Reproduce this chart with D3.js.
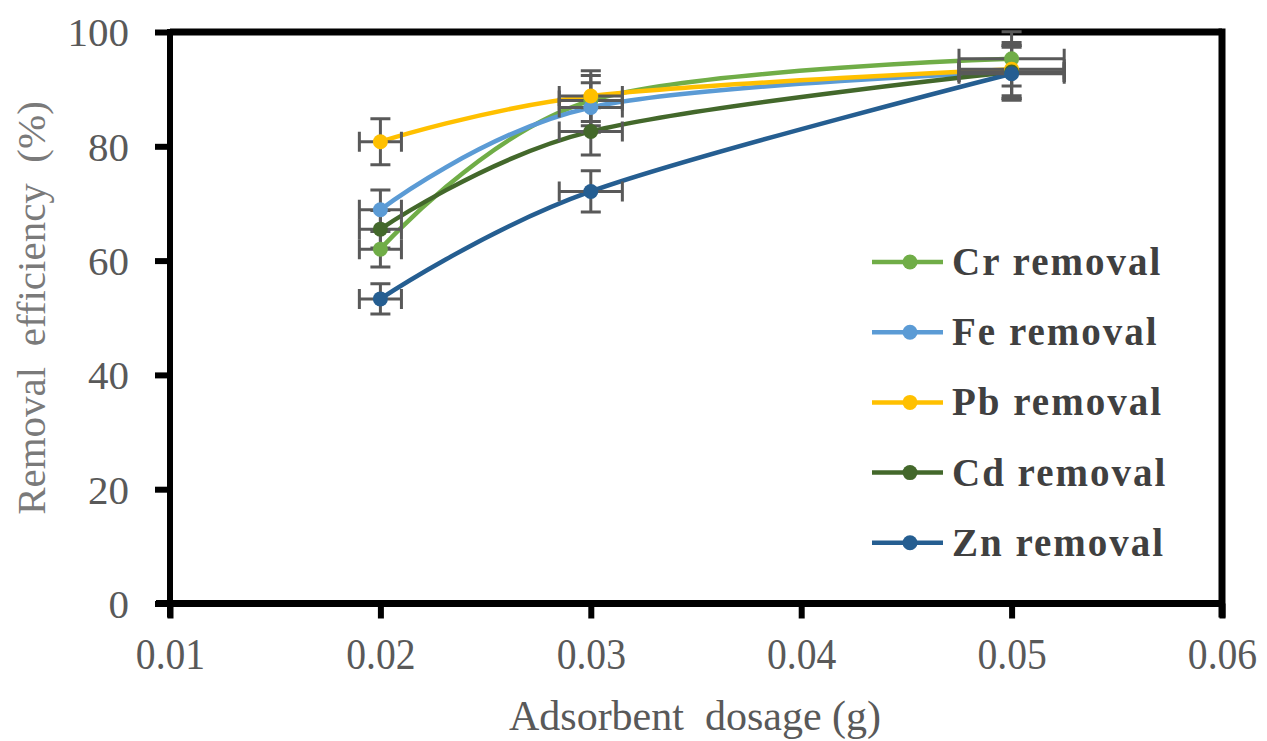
<!DOCTYPE html>
<html>
<head>
<meta charset="utf-8">
<script src="https://cdn.jsdelivr.net/npm/d3@7"></script>
<style>
  html, body { margin: 0; padding: 0; background: #fff; }
  svg { display: block; }
</style>
</head>
<body>
<svg id="chart" width="1267" height="741"></svg>
<script>
// ---- data ----
const dosages = [0.02, 0.03, 0.05];
const seriesNames = ["Cr removal", "Fe removal", "Pb removal", "Cd removal", "Zn removal"];
const seriesColors = ["#70AD47", "#5B9BD5", "#FFC000", "#43682B", "#255E91"];
const crValues = [62.0, 88.0, 95.3];
const feValues = [68.9, 86.8, 93.0];
const pbValues = [80.8, 88.8, 93.5];
const cdValues = [65.5, 82.6, 93.0];
const znValues = [53.3, 72.1, 92.7];
const errorFraction = 0.05; // error bars: 5% of value on both axes
const xTicks = [0.01, 0.02, 0.03, 0.04, 0.05, 0.06];
const yTicks = [0, 20, 40, 60, 80, 100];

const allValues = [crValues, feValues, pbValues, cdValues, znValues];

// ---- layout ----
const svg = d3.select("#chart");
const L = 170, R = 1222, T = 32, B = 603.5;
const x = d3.scaleLinear().domain([0.01, 0.06]).range([L, R]);
const y = d3.scaleLinear().domain([0, 100]).range([B, T]);

const serif = "'Liberation Serif', 'Times New Roman', serif";

// frame (top & right)
svg.append("line").attr("x1", L).attr("x2", R).attr("y1", T).attr("y2", T)
  .attr("stroke", "#000").attr("stroke-width", 7);
svg.append("line").attr("x1", R).attr("x2", R).attr("y1", T - 3.5).attr("y2", B + 14)
  .attr("stroke", "#000").attr("stroke-width", 7);

// y axis
const yAxis = d3.axisLeft(y).tickValues(yTicks).tickSize(15).tickPadding(26).tickFormat(d3.format("d"));
const gy = svg.append("g").attr("transform", `translate(${L},0)`).call(yAxis);
gy.select(".domain").attr("stroke", "#000").attr("stroke-width", 6)
  .attr("d", `M0,${T - 3}V${B + 14}`);
gy.selectAll(".tick line").attr("stroke", "#000").attr("stroke-width", 6);
gy.selectAll(".tick text").attr("font-family", serif).attr("font-size", 41)
  .attr("fill", "#595959").attr("dy", "0.34em");

// x axis
const xAxis = d3.axisBottom(x).tickValues(xTicks).tickSize(15).tickPadding(20).tickFormat(d3.format(".2f"));
const gx = svg.append("g").attr("transform", `translate(0,${B})`).call(xAxis);
gx.select(".domain").attr("stroke", "#000").attr("stroke-width", 7)
  .attr("d", `M${L - 14},0H${R}`);
gx.selectAll(".tick line").attr("stroke", "#000").attr("stroke-width", 6);
gx.selectAll(".tick text").attr("font-family", serif).attr("font-size", 45)
  .attr("fill", "#595959").attr("dy", 0)
  .attr("y", 0)
  .attr("transform", "translate(0,65) scale(0.88,1)");

// axis titles
svg.append("text")
  .attr("x", 695).attr("y", 730)
  .attr("text-anchor", "middle")
  .attr("font-family", serif).attr("font-size", 42)
  .attr("fill", "#595959")
  .style("white-space", "pre")
  .text("Adsorbent  dosage (g)");

svg.append("text")
  .attr("transform", "translate(45,308) rotate(-90)")
  .attr("text-anchor", "middle")
  .attr("font-family", serif).attr("font-size", 41)
  .attr("fill", "#7a7a7a")
  .style("white-space", "pre")
  .text("Removal  efficiency  (%)");

// ---- series ----
const line = d3.line()
  .x(d => x(d[0])).y(d => y(d[1]))
  .curve(d3.curveCardinal.tension(0));

const seriesData = allValues.map(vals => dosages.map((d, i) => [d, vals[i]]));

const gLines = svg.append("g");
const gErr = svg.append("g");
const gMarks = svg.append("g");

seriesData.forEach((pts, si) => {
  gLines.append("path")
    .attr("d", line(pts))
    .attr("fill", "none")
    .attr("stroke", seriesColors[si])
    .attr("stroke-width", 4.5)
    .attr("stroke-linecap", "round");
});

const errColor = "#595959", cap = 10;
seriesData.forEach((pts, si) => {
  pts.forEach(([dx, dv]) => {
    const cx = x(dx), cy = y(dv);
    const ex = errorFraction * dx, ev = errorFraction * dv;
    const x0 = x(dx - ex), x1 = x(dx + ex), y0 = y(dv - ev), y1 = y(dv + ev);
    const g = gErr.append("g").attr("stroke", errColor).attr("stroke-width", 3).attr("fill", "none");
    g.append("path").attr("d", `M${x0},${cy}H${x1}M${x0},${cy - cap}V${cy + cap}M${x1},${cy - cap}V${cy + cap}`);
    g.append("path").attr("d", `M${cx},${y0}V${y1}M${cx - cap},${y0}H${cx + cap}M${cx - cap},${y1}H${cx + cap}`);
  });
});

seriesData.forEach((pts, si) => {
  gMarks.selectAll(null).data(pts).enter().append("circle")
    .attr("cx", d => x(d[0])).attr("cy", d => y(d[1])).attr("r", 7.5)
    .attr("fill", seriesColors[si]);
});

// ---- legend ----
const legend = svg.append("g");
seriesNames.forEach((name, i) => {
  const ly = 262 + i * 70.2;
  legend.append("line").attr("x1", 872).attr("x2", 943).attr("y1", ly).attr("y2", ly)
    .attr("stroke", seriesColors[i]).attr("stroke-width", 4.5);
  legend.append("circle").attr("cx", 910).attr("cy", ly).attr("r", 7.5).attr("fill", seriesColors[i]);
  legend.append("text").attr("x", 952).attr("y", ly + 13)
    .attr("font-family", serif).attr("font-size", 39).attr("font-weight", "bold")
    .attr("letter-spacing", 2)
    .attr("fill", "#404040")
    .text(name);
});
</script>
</body>
</html>
